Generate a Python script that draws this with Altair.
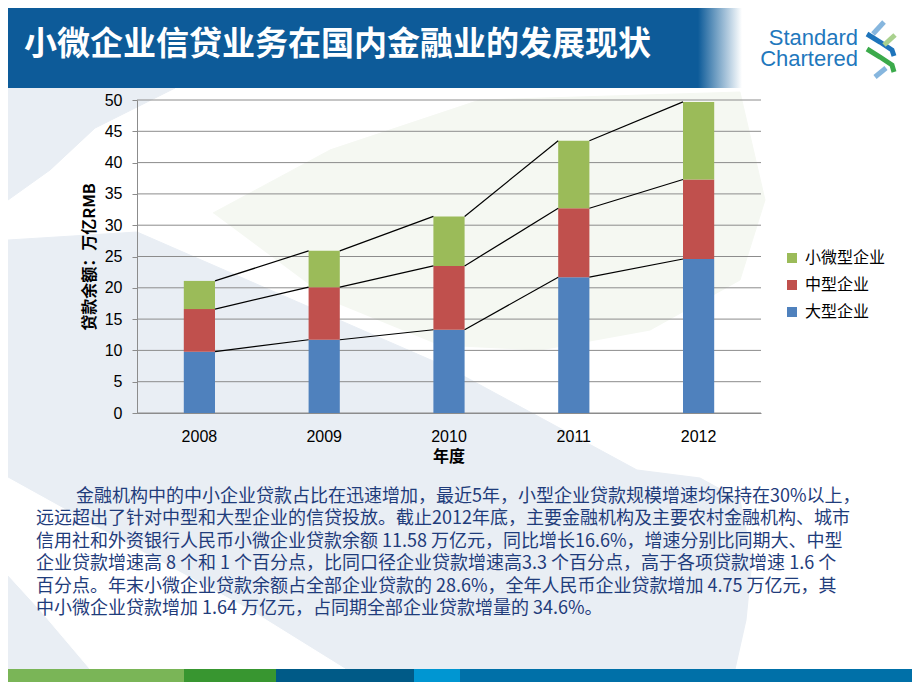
import altair as alt
import pandas as pd

# ---------------- data ----------------
years = ["2008", "2009", "2010", "2011", "2012"]
large = [9.8, 11.7, 13.3, 21.7, 24.6]
medium = [6.8, 8.4, 10.2, 11.0, 12.7]
small = [4.5, 5.8, 7.9, 10.8, 12.4]
series_names = ["小微型企业", "中型企业", "大型企业"]      # legend order (top -> bottom)
series_colors = ["#9BBB59", "#C0504D", "#4F81BD"]
y_ticks = [0, 5, 10, 15, 20, 25, 30, 35, 40, 45, 50]
title_text = "小微企业信贷业务在国内金融业的发展现状"
y_title = "贷款余额：万亿RMB"
x_title = "年度"
paragraph = [
    "金融机构中的中小企业贷款占比在迅速增加，最近5年，小型企业贷款规模增速均保持在30%以上，",
    "远远超出了针对中型和大型企业的信贷投放。截止2012年底，主要金融机构及主要农村金融机构、城市",
    "信用社和外资银行人民币小微企业贷款余额 11.58 万亿元，同比增长16.6%，增速分别比同期大、中型",
    "企业贷款增速高 8 个和 1 个百分点，比同口径企业贷款增速高3.3 个百分点，高于各项贷款增速 1.6 个",
    "百分点。年末小微企业贷款余额占全部企业贷款的 28.6%，全年人民币企业贷款增加 4.75 万亿元，其",
    "中小微企业贷款增加 1.64 万亿元，占同期全部企业贷款增量的 34.6%。",
]

# ---------------- layout (page pixels) ----------------
PL, PT, PW, PH = 137, 100, 624, 313
CW, CH = 904, 674
HEADER_BLUE = "#0D5B99"
GRID = "#8C8C8C"
CJK = "Noto Sans CJK SC"


def vx(x):
    return x - PL


def vy(y):
    return y - PT


# ---------------- pixel-space decorations ----------------
px_scale_x = alt.Scale(domain=[0, 920], range=[-PL, 920 - PL], nice=False, zero=False)
px_scale_y = alt.Scale(domain=[0, 690], range=[-PT, 690 - PT], nice=False, zero=False)


def poly_df(polys):
    rows = []
    for pid, pts in enumerate(polys):
        for i, (x, y) in enumerate(pts):
            rows.append({"pid": pid, "i": i, "px": x, "py": y})
    return pd.DataFrame(rows)


def poly_layer(polys, color):
    return alt.Chart(poly_df(polys)).mark_line(
        fill=color, stroke=color, strokeWidth=1, interpolate="linear"
    ).encode(
        x=alt.X("px:Q", scale=px_scale_x, axis=None),
        y=alt.Y("py:Q", scale=px_scale_y, axis=None),
        detail="pid:N",
        order="i:Q",
    )


pale_blue = [
    [(8, 88), (175, 88), (95, 128), (50, 170), (8, 200)],
    [(8, 240), (137, 232), (447, 367), (637, 470), (700, 478), (740, 500),
     (752, 560), (746, 620), (735, 669), (8, 669)],
]
pale_green = [
    [(213, 213), (330, 150), (480, 100), (740, 92), (765, 200), (740, 280),
     (650, 330), (540, 350), (440, 345), (330, 300)],
]
white_swoosh = [
    [(8, 478), (120, 540), (250, 610), (345, 669), (90, 669), (40, 610), (8, 575)],
]

bg_blue = poly_layer(pale_blue, "#E9EEF4")
bg_green = poly_layer(pale_green, "#F5F8F2")
bg_white = poly_layer(white_swoosh, "#FFFFFF")

one = pd.DataFrame({"a": [0]})

header = alt.Chart(one).mark_rect(
    fill=alt.Gradient(
        gradient="linear",
        stops=[
            alt.GradientStop(color=HEADER_BLUE, offset=0),
            alt.GradientStop(color=HEADER_BLUE, offset=0.94),
            alt.GradientStop(color="#FFFFFF", offset=1),
        ],
        x1=0, x2=1, y1=0, y2=0,
    )
).encode(x=alt.value(vx(8)), x2=alt.value(vx(742)), y=alt.value(vy(8)), y2=alt.value(vy(88)))

title = alt.Chart(one).mark_text(
    text=title_text, font=CJK, fontSize=33, fontWeight="bold", color="white",
    align="left", baseline="middle"
).encode(x=alt.value(vx(24)), y=alt.value(vy(45)))

logo_text = alt.Chart(pd.DataFrame({"t": ["Standard", "Chartered"], "py": [37.5, 59]})).mark_text(
    font="Liberation Sans", fontSize=22, color="#1F78BD", align="right", baseline="middle"
).encode(
    x=alt.value(vx(858)),
    y=alt.Y("py:Q", scale=px_scale_y, axis=None),
    text="t:N",
)

logo_pieces = [
    ("#86B6DE", [(873, 34), (884, 22)]),
    ("#1E74BB", [(867, 34), (880, 42), (892, 50), (894, 56)]),
    ("#A9D18E", [(884, 45), (895, 35)]),
    ("#3BAA4B", [(867, 49), (880, 57), (892, 65), (894, 72)]),
    ("#86B6DE", [(875, 77), (886, 68)]),
]
lrows = []
for pid, (c, pts) in enumerate(logo_pieces):
    for i, (x, y) in enumerate(pts):
        lrows.append({"pid": pid, "i": i, "px": x, "py": y, "c": c})
logo = alt.Chart(pd.DataFrame(lrows)).mark_line(strokeWidth=5, strokeCap="butt").encode(
    x=alt.X("px:Q", scale=px_scale_x, axis=None),
    y=alt.Y("py:Q", scale=px_scale_y, axis=None),
    detail="pid:N",
    order="i:Q",
    color=alt.Color("c:N", scale=None),
)

bottom_bars = pd.DataFrame({
    "x0": [8, 184, 276, 414, 460],
    "x1": [184, 276, 414, 460, 912],
    "c": ["#7AB557", "#389630", "#005A87", "#0096D2", "#0070A8"],
})
bottom_bars["y0"] = 669
bottom_bars["y1"] = 682
bottom = alt.Chart(bottom_bars).mark_rect().encode(
    x=alt.X("x0:Q", scale=px_scale_x, axis=None),
    x2="x1:Q",
    y=alt.Y("y0:Q", scale=px_scale_y, axis=None),
    y2="y1:Q",
    color=alt.Color("c:N", scale=None),
)

para_df = pd.DataFrame({
    "t": paragraph,
    "px": [76] + [36] * (len(paragraph) - 1),
    "py": [497 + 22.4 * i for i in range(len(paragraph))],
})
para = alt.Chart(para_df).mark_text(
    font=CJK, fontSize=18, color="#1F3C7B", align="left", baseline="middle"
).encode(
    x=alt.X("px:Q", scale=px_scale_x, axis=None),
    y=alt.Y("py:Q", scale=px_scale_y, axis=None),
    text="t:N",
)

ytitle = alt.Chart(one).mark_text(
    text=y_title, font=CJK, fontSize=16, fontWeight="bold", color="black",
    angle=270, align="center", baseline="middle"
).encode(x=alt.value(vx(90)), y=alt.value(vy(257)))

xtitle = alt.Chart(one).mark_text(
    text=x_title, font=CJK, fontSize=16, fontWeight="bold", color="black",
    align="center", baseline="middle"
).encode(x=alt.value(vx(449)), y=alt.value(vy(457)))

deco = alt.layer(bg_blue, bg_green, bg_white, header, title, logo_text, logo, bottom, para, ytitle, xtitle)

# ---------------- data layers ----------------
rank = {"大型企业": 0, "中型企业": 1, "小微型企业": 2}
rows = []
for i, yr in enumerate(years):
    for name, vals in (("大型企业", large), ("中型企业", medium), ("小微型企业", small)):
        rows.append({"year": yr, "series": name, "value": vals[i], "rank": rank[name]})
bars_df = pd.DataFrame(rows)

xscale = alt.Scale(domain=years, paddingInner=0.75, paddingOuter=0.375)
yscale = alt.Scale(domain=[0, 50], nice=False, zero=True)

xaxis = alt.Axis(labelAngle=0, labelFont="Liberation Sans", labelFontSize=16,
                 labelColor="black", ticks=False, labelPadding=15,
                 domainColor=GRID, grid=False, zindex=1, title=None)
yaxis = alt.Axis(values=y_ticks, labelFont="Liberation Sans", labelFontSize=16,
                 labelColor="black", tickSize=5, tickColor=GRID, domainColor=GRID,
                 labelPadding=10, grid=False, zindex=1, title=None)

cum1 = large
cum2 = [a + b for a, b in zip(large, medium)]
cum3 = [a + b + c for a, b, c in zip(large, medium, small)]
lrows = []
for lvl in (cum1, cum2, cum3):
    for i in range(len(years) - 1):
        lrows.append({"year": years[i], "year2": years[i + 1], "value": lvl[i], "v2": lvl[i + 1]})
conn_df = pd.DataFrame(lrows)

grid_df = pd.DataFrame({"value": y_ticks, "year": [years[0]] * len(y_ticks)})
grid = alt.Chart(grid_df).mark_rule(color=GRID, strokeWidth=1).encode(
    y=alt.Y("value:Q", scale=yscale, axis=yaxis),
    x=alt.value(0),
    x2=alt.value(PW),
)

bars = alt.Chart(bars_df).mark_bar().encode(
    x=alt.X("year:N", scale=xscale, axis=xaxis),
    y=alt.Y("value:Q", stack="zero", scale=yscale, axis=yaxis),
    color=alt.Color(
        "series:N",
        scale=alt.Scale(domain=series_names, range=series_colors),
        legend=alt.Legend(
            title=None, orient="none", legendX=vx(784), legendY=vy(250),
            symbolType="square", symbolSize=100, symbolStrokeWidth=0,
            labelFont=CJK, labelFontSize=16, labelColor="black",
            labelOffset=5, rowPadding=11, padding=0,
        ),
    ),
    order=alt.Order("rank:Q"),
)

conn = alt.Chart(conn_df).mark_rule(
    color="black", strokeWidth=1.2, xOffset=15.6, x2Offset=-15.6
).encode(
    x=alt.X("year:N", scale=xscale, axis=xaxis),
    x2="year2:N",
    y=alt.Y("value:Q", scale=yscale, axis=yaxis),
    y2="v2:Q",
)

data_layers = alt.layer(grid, bars, conn)

chart = alt.layer(deco, data_layers).resolve_scale(
    x="independent", y="independent", color="independent"
).properties(
    width=PW, height=PH,
    padding={"left": PL - 8, "top": PT - 8, "right": CW - (PL - 8) - PW, "bottom": CH - (PT - 8) - PH},
    autosize=alt.AutoSizeParams(type="none"),
    background="white",
).configure_view(strokeWidth=0)

chart.save("out.html", embed_options={"renderer": "svg", "actions": False})
